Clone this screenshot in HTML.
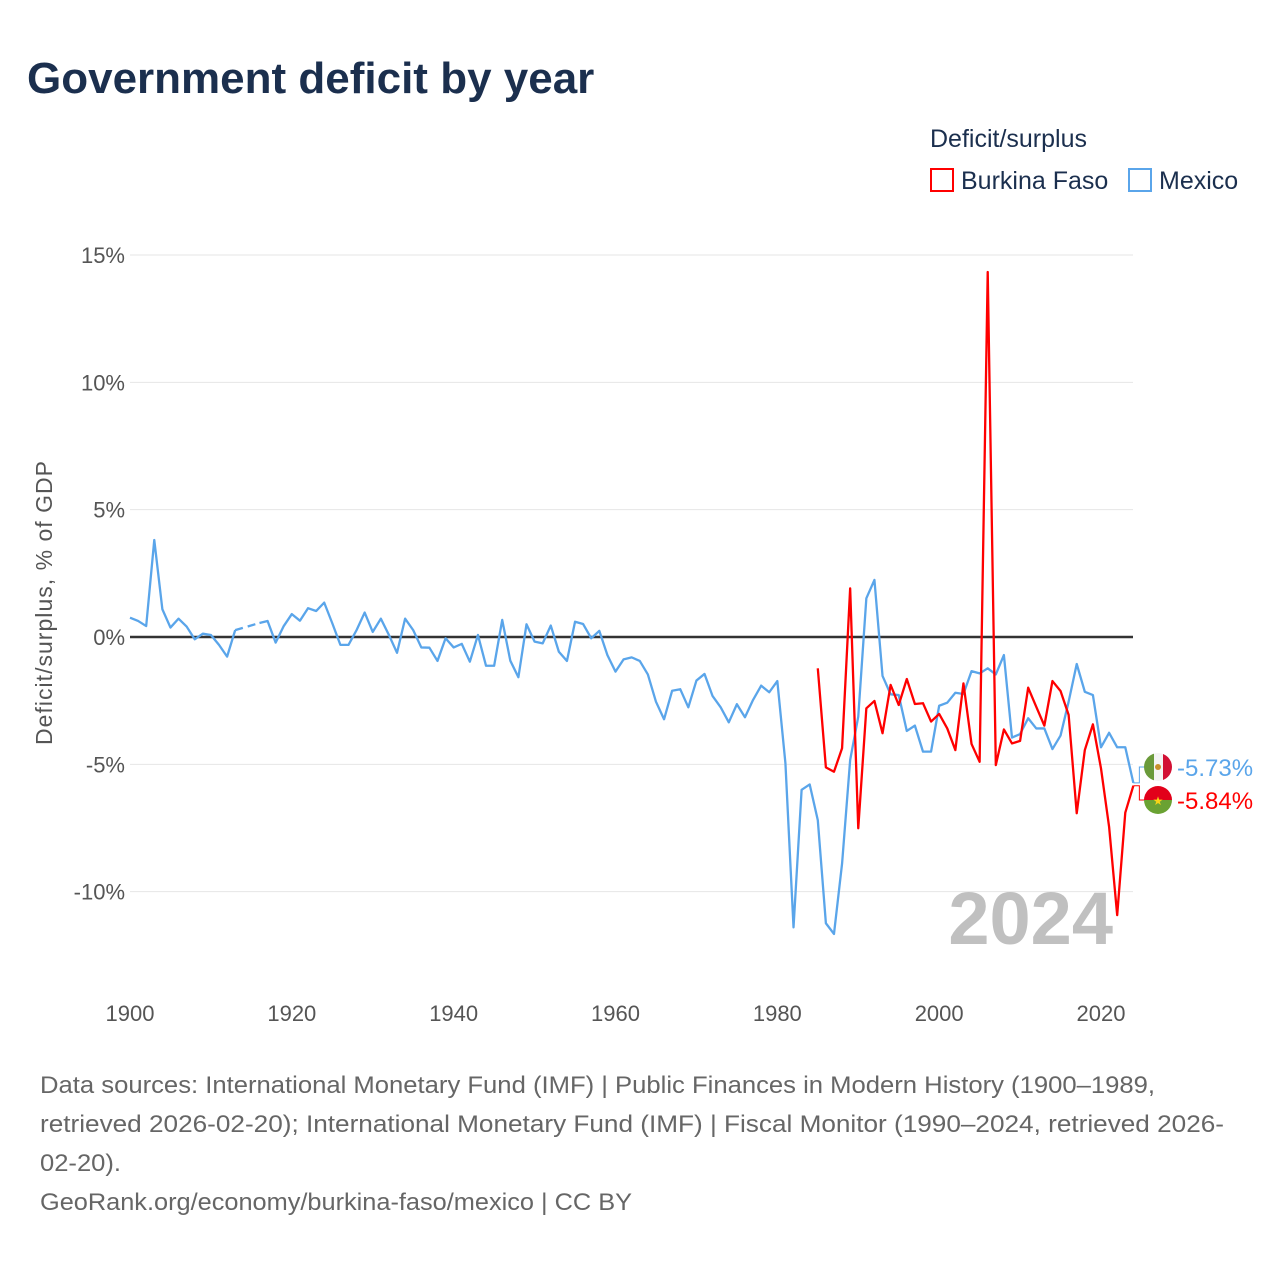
<!DOCTYPE html>
<html><head><meta charset="utf-8">
<style>
body{margin:0;background:#fff;}
#wrap{position:relative;width:1280px;height:1280px;overflow:hidden;font-family:"Liberation Sans",sans-serif;}
svg text{font-family:"Liberation Sans",sans-serif;}
</style></head>
<body>
<div id="wrap">
<svg id="chart" width="1280" height="1280" viewBox="0 0 1280 1280">
<text x="27" y="93" font-size="44" font-weight="bold" fill="#1b2f4e">Government deficit by year</text>
<text x="930" y="147" font-size="25" fill="#1b2f4e">Deficit/surplus</text>
<g>
<rect x="931" y="169" width="22" height="22" fill="none" stroke="#f00" stroke-width="2"/>
<text x="961" y="189" font-size="25" fill="#1b2f4e">Burkina Faso</text></g>
<g>
<rect x="1129" y="169" width="22" height="22" fill="none" stroke="#5aa5ea" stroke-width="2"/>
<text x="1159" y="189" font-size="25" fill="#1b2f4e">Mexico</text></g>
<text x="52" y="603" font-size="23" fill="#555" transform="rotate(-90 52 603)" text-anchor="middle" textLength="284">Deficit/surplus, % of GDP</text>
<g id="grid"></g>
<text x="1113" y="944" font-size="74" font-weight="bold" fill="#c0c0c0" text-anchor="end">2024</text>
<g id="series"></g>
<g id="endlabels"></g>
<text x="40" y="1093" font-size="24" fill="#666" textLength="1115" lengthAdjust="spacingAndGlyphs">Data sources: International Monetary Fund (IMF) | Public Finances in Modern History (1900–1989,</text>
<text x="40" y="1132" font-size="24" fill="#666" textLength="1184" lengthAdjust="spacingAndGlyphs">retrieved 2026-02-20); International Monetary Fund (IMF) | Fiscal Monitor (1990–2024, retrieved 2026-</text>
<text x="40" y="1171" font-size="24" fill="#666" textLength="81" lengthAdjust="spacingAndGlyphs">02-20).</text>
<text x="40" y="1210" font-size="24" fill="#666" textLength="592" lengthAdjust="spacingAndGlyphs">GeoRank.org/economy/burkina-faso/mexico | CC BY</text>
</svg>
</div>
<script>
const yTicks=[15,10,5,0,-5,-10];
const yTickLabels=["15%","10%","5%","0%","-5%","-10%"];
const xTicks=[1900,1920,1940,1960,1980,2000,2020];
const mexicoStart=1900;
const mexicoValues=[0.76,0.63,0.43,3.81,1.09,0.37,0.72,0.41,-0.09,0.13,0.08,-0.31,-0.77,0.27,null,null,0.55,0.63,-0.22,0.43,
0.9,0.64,1.13,1.02,1.35,0.54,-0.31,-0.31,0.27,0.96,0.2,0.72,0.08,-0.62,0.72,0.27,-0.41,-0.42,-0.94,-0.05,
-0.41,-0.27,-0.97,0.08,-1.13,-1.13,0.67,-0.93,-1.58,0.5,-0.18,-0.25,0.45,-0.58,-0.94,0.6,0.51,-0.05,0.24,-0.71,
-1.36,-0.88,-0.8,-0.94,-1.47,-2.54,-3.23,-2.11,-2.05,-2.76,-1.71,-1.45,-2.32,-2.76,-3.35,-2.64,-3.15,-2.47,-1.91,-2.17,
-1.73,-4.96,-11.4,-6.0,-5.79,-7.19,-11.24,-11.66,-8.9,-4.83,-3.13,1.52,2.24,-1.53,-2.25,-2.28,-3.69,-3.48,-4.5,-4.5,
-2.7,-2.58,-2.19,-2.24,-1.34,-1.43,-1.23,-1.47,-0.71,-3.95,-3.81,-3.19,-3.59,-3.59,-4.4,-3.87,-2.54,-1.06,-2.15,-2.28,
-4.33,-3.76,-4.33,-4.33,-5.73];
const burkinaStart=1985;
const burkinaValues=[-1.23,-5.12,-5.29,-4.37,1.91,-7.51,-2.8,-2.51,-3.78,-1.88,-2.67,-1.65,-2.63,-2.6,-3.32,
-3.02,-3.59,-4.44,-1.82,-4.2,-4.9,14.33,-5.03,-3.63,-4.18,-4.08,-1.99,-2.74,-3.48,-1.73,-2.12,-3.06,-6.92,-4.44,-3.43,
-5.16,-7.45,-10.92,-6.9,-5.84];

const NS="http://www.w3.org/2000/svg";
const X=y=>130+(y-1900)*(1101-130)/120;
const Y=v=>637-v*25.467;
function mk(tag,attrs,parent){const e=document.createElementNS(NS,tag);for(const k in attrs)e.setAttribute(k,attrs[k]);parent.appendChild(e);return e;}
const grid=document.getElementById('grid');
yTicks.forEach((t,i)=>{
  const l=mk('line',{x1:130,x2:1133,y1:Y(t),y2:Y(t),stroke:t===0?'#333':'#e6e6e6','stroke-width':t===0?2.5:1},grid);
  
  
  const tx=mk('text',{x:125,y:Y(t)+8,'font-size':22,fill:'#555','text-anchor':'end'},grid);
  tx.textContent=yTickLabels[i];
  
  
});
xTicks.forEach(t=>{
  const tx=mk('text',{x:X(t),y:1021,'font-size':22,fill:'#555','text-anchor':'middle'},grid);
  tx.textContent=t;
  
  
});
const ser=document.getElementById('series');
function draw(start,vals,color,name){
  let segs=[],cur=[],prev=null,dashes=[];
  vals.forEach((v,i)=>{
    const yr=start+i;
    if(v===null){if(cur.length){segs.push(cur);prev=cur[cur.length-1];cur=[];}return;}
    if(!cur.length&&prev){dashes.push([prev,[X(yr),Y(v)]]);prev=null;}
    cur.push([X(yr),Y(v)]);
  });
  if(cur.length)segs.push(cur);
  segs.forEach(s=>{
    const p=mk('polyline',{points:s.map(q=>q.join(',')).join(' '),fill:'none',stroke:color,'stroke-width':2.3,'stroke-linejoin':'round'},ser);
    
    
  });
  dashes.forEach(d=>{
    const p=mk('line',{x1:d[0][0],y1:d[0][1],x2:d[1][0],y2:d[1][1],stroke:color,'stroke-width':2.3,'stroke-dasharray':'8,5'},ser);
    
    
  });
}
draw(mexicoStart,mexicoValues,'#5aa5ea','mexico');
draw(burkinaStart,burkinaValues,'#ff0000','burkina-faso');

const el=document.getElementById('endlabels');
function endLabel(val,cy,color,name,flag){
  const ex=X(2024),ey=Y(val);
  const c=mk('polyline',{points:`${ex},${ey} ${ex+6},${ey} ${ex+6},${cy} ${1146},${cy}`,fill:'none',stroke:color,'stroke-width':1},el);
  
  
  const g=mk('g',{},el);
  
  
  const cp=mk('clipPath',{id:'cp'+name},g);
  mk('circle',{cx:1158,cy:cy,r:14},cp);
  const gg=mk('g',{'clip-path':`url(#cp${name})`},g);
  if(flag==='mx'){
    mk('rect',{x:1144,y:cy-14,width:10,height:28,fill:'#6a9a3a'},gg);
    mk('rect',{x:1154,y:cy-14,width:9,height:28,fill:'#f4f4f4'},gg);
    mk('rect',{x:1163,y:cy-14,width:9,height:28,fill:'#d21034'},gg);
    mk('circle',{cx:1158,cy:cy,r:3,fill:'#c8902c'},gg);
  }else{
    mk('rect',{x:1144,y:cy-14,width:28,height:14,fill:'#e2001a'},gg);
    mk('rect',{x:1144,y:cy,width:28,height:14,fill:'#6aa233'},gg);
    const s=mk('text',{x:1158,y:cy+5,'font-size':12,fill:'#f7d417','text-anchor':'middle'},gg);
    s.textContent='★';
  }
  const t=mk('text',{x:1177,y:cy+9,'font-size':24,fill:color},el);
  t.textContent=val.toFixed(2)+'%';
  
  
}
endLabel(mexicoValues[mexicoValues.length-1],767,'#5aa5ea','mexico','mx');
endLabel(burkinaValues[burkinaValues.length-1],800,'#ff0000','burkina-faso','bf');
</script>
</body></html>
